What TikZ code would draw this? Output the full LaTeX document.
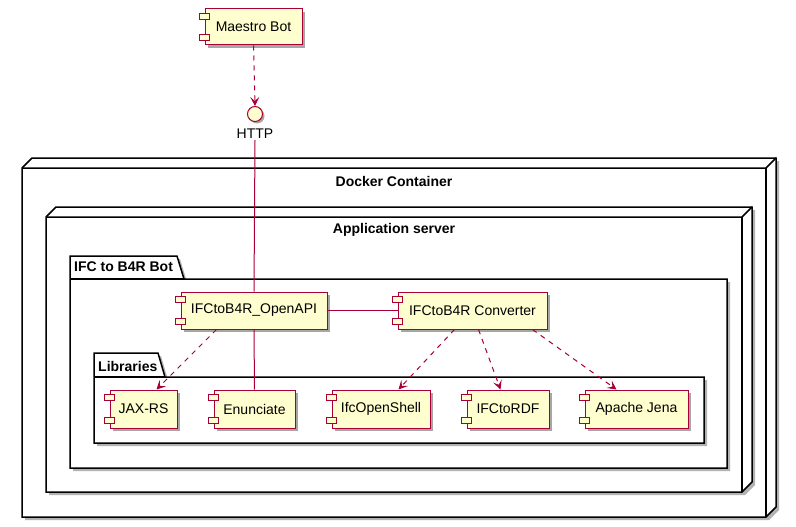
\documentclass[tikz,border=0pt]{standalone}
\usepackage{fontspec}
\setmainfont{Liberation Sans}
\usetikzlibrary{shadows,arrows.meta}
\definecolor{umlred}{HTML}{A80036}
\definecolor{umlfill}{HTML}{FEFECE}
\newcommand\umlnodebox[4]{%
  \fill[black!30] ({#1+3},{#2+3}) -- ({#1+13},{#2-7}) -- ({#3+13},{#2-7}) -- ({#3+13},{#4-7}) -- ({#3+3},{#4+3}) -- ({#1+3},{#4+3}) -- cycle;
  \filldraw[frame, fill=white] (#1,#2) -- ({#1+10},{#2-10}) -- ({#3+10},{#2-10}) -- ({#3+10},{#4-10}) -- (#3,#4) -- (#1,#4) -- cycle;
  \draw[frame] (#1,#2) -- (#3,#2) -- ({#3+10},{#2-10});
  \draw[frame] (#3,#2) -- (#3,#4);
}
\newcommand\umlpkgbox[6]{%
  \fill[black!30] ({#1+3},{#2+3}) -- ({#3-4},{#2+3}) -- ({#3+3},{#4+3}) -- ({#5+3},{#4+3}) -- ({#5+3},{#6+3}) -- ({#1+3},{#6+3}) -- cycle;
  \filldraw[frame, fill=white] (#1,#2) -- ({#3-7},#2) -- (#3,#4) -- (#5,#4) -- (#5,#6) -- (#1,#6) -- cycle;
  \draw[frame] (#1,#4) -- (#3,#4);
}
\begin{document}
\begin{tikzpicture}[x=1pt,y=-1pt,
  frame/.style={draw=black, line width=1.5pt, line join=miter},
  comp/.style={draw=umlred, fill=umlfill, line width=1pt, rectangle, inner sep=0pt,
    minimum height=37pt, font=\fontsize{14}{16}\selectfont,
    drop shadow={shadow xshift=3pt, shadow yshift=-3pt, fill=black!35, opacity=1}},
  ctitle/.style={font=\bfseries\fontsize{14}{16}\selectfont, inner sep=0pt},
  ptitle/.style={font=\bfseries\fontsize{14}{16}\selectfont, inner sep=0pt, anchor=west},
  dep/.style={draw=umlred, line width=1pt, dash pattern=on 5pt off 5pt,
    -{Stealth[length=9pt, width=9pt, inset=4pt]}},
  link/.style={draw=umlred, line width=1pt},
  compicon/.style={draw=umlred, fill=umlfill, line width=1pt}
]
\useasboundingbox (0,0) rectangle (796,527);

% frames
\umlnodebox{22}{168}{766}{517}
\node[ctitle] (docker) at (394,181) {Docker Container};
\umlnodebox{46}{217}{742}{492}
\node[ctitle] (appserver) at (394,230) {Application server};
\umlpkgbox{70}{256}{184}{279}{727}{468}
\node[ptitle] (ifcbot) at (74,267) {IFC to B4R Bot};
\umlpkgbox{94}{353}{165}{377}{704}{443}
\node[ptitle] (libs) at (98,366) {Libraries};

% components
\node[comp, minimum width=97pt, minimum height=36pt] (maestro) at (253.5,27) {Maestro Bot};
\node[circle, draw=umlred, fill=umlfill, line width=1pt, minimum size=15pt, inner sep=0pt,
  drop shadow={shadow xshift=2pt, shadow yshift=-2pt, fill=black!35, opacity=1}] (http) at (255,114) {};
\node[font=\fontsize{14}{16}\selectfont, inner sep=1pt] (httplabel) at (255,134) {HTTP};

\node[comp, minimum width=146pt] (openapi) at (254,310.5) {IFCtoB4R\_OpenAPI};
\node[comp, minimum width=149pt] (converter) at (472.5,310.5) {IFCtoB4R Converter};
\node[comp, minimum width=67pt, minimum height=38pt] (jaxrs) at (143.5,409) {JAX-RS};
\node[comp, minimum width=81pt, minimum height=38pt] (enunciate) at (254.5,409) {Enunciate};
\node[comp, minimum width=98pt, minimum height=38pt] (ifcopenshell) at (381,409) {IfcOpenShell};
\node[comp, minimum width=82pt, minimum height=38pt] (ifctordf) at (508,409) {IFCtoRDF};
\node[comp, minimum width=103pt, minimum height=38pt] (jena) at (636.5,409) {Apache Jena};

\foreach \n in {maestro,openapi,converter,jaxrs,enunciate,ifcopenshell,ifctordf,jena}{
  \filldraw[compicon] ([xshift=-5pt,yshift=-5pt]\n.north west) rectangle ++(10,6);
  \filldraw[compicon] ([xshift=-5pt,yshift=5pt]\n.south west) rectangle ++(10,-6);
}

% connectors
\draw[dep] (maestro.south) -- (http.north);
\draw[link] (httplabel.south) -- (openapi.north);
\draw[link] (openapi.east) -- (converter.west);
\draw[link] (openapi.south) -- (enunciate.north);
\draw[dep] ([xshift=36pt]openapi.south west) -- ([xshift=47pt]jaxrs.north west);
\draw[dep] ([xshift=57pt]converter.south west) -- ([xshift=67pt]ifcopenshell.north west);
\draw[dep] ([xshift=81pt]converter.south west) -- ([xshift=34pt]ifctordf.north west);
\draw[dep] ([xshift=135pt]converter.south west) -- ([xshift=32pt]jena.north west);
\end{tikzpicture}
\end{document}
